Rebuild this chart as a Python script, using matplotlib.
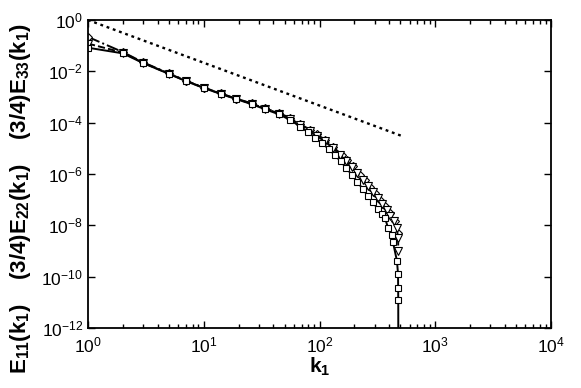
import matplotlib
matplotlib.use("Agg")
import matplotlib.pyplot as plt
import matplotlib.ticker as mticker
import numpy as np

plt.rcParams['font.family'] = ['Liberation Sans', 'DejaVu Sans']
plt.rcParams['mathtext.fontset'] = 'custom'
plt.rcParams['mathtext.rm'] = 'Liberation Sans'
plt.rcParams['mathtext.it'] = 'Liberation Sans'
plt.rcParams['mathtext.bf'] = 'Liberation Sans:bold'

# E11 (squares, solid)
k_11 = [1, 2, 3, 5, 7, 10, 14, 19, 26, 34, 45, 56, 68, 80, 92, 105, 120,
        136, 152, 170, 190, 212, 236, 262, 290, 320, 345, 368, 391, 423,
        431, 467, 477, 478, 479, 480]
logE_11 = [-1.08, -1.30, -1.68, -2.10, -2.38, -2.65, -2.88, -3.08, -3.28,
           -3.48, -3.68, -3.90, -4.15, -4.38, -4.58, -4.80, -5.02,
           -5.27, -5.50, -5.76, -6.03, -6.30, -6.58, -6.85, -7.10, -7.38,
           -7.55, -7.71, -8.10, -8.37, -8.65, -9.39, -9.90, -10.44, -10.9,
           -14.0]

# (3/4) E22 (triangles, dashed)
k_22 = [1, 2, 3, 5, 7, 10, 14, 19, 26, 34, 45, 56, 68, 83, 95, 111, 131,
        150, 170, 190, 212, 236, 262, 290, 320, 350, 380, 410, 440, 465,
        477, 480]
logE_22 = [-0.92, -1.27, -1.67, -2.09, -2.37, -2.64, -2.87, -3.07, -3.26,
           -3.45, -3.65, -3.85, -4.08, -4.33, -4.52, -4.73, -5.00,
           -5.25, -5.50, -5.73, -5.98, -6.22, -6.46, -6.70, -6.95, -7.18,
           -7.40, -7.62, -7.85, -8.10, -8.50, -9.00]

# (3/4) E33 (diamonds, dash-dot)
k_33 = [1, 2, 3, 5, 7, 10, 14, 19, 26, 34, 45, 56, 68, 83, 95, 111, 131,
        156, 172, 195, 224, 247, 272, 300, 334, 366, 405, 447, 475]
logE_33 = [-0.66, -1.25, -1.65, -2.08, -2.36, -2.63, -2.86, -3.06, -3.25,
           -3.44, -3.63, -3.82, -4.05, -4.28, -4.46, -4.66, -4.95,
           -5.25, -5.45, -5.70, -6.02, -6.25, -6.50, -6.75, -7.02, -7.25,
           -7.52, -7.85, -8.30]

# -5/3 reference line
k_ref = [1, 513]
slope_ref = -5.0 / 3.0

fig = plt.figure(figsize=(5.81, 3.88), dpi=100)
ax = fig.add_axes([88 / 581, 1 - 328 / 388, (551 - 88) / 581, (328 - 20) / 388])

mk = dict(markerfacecolor='white', markeredgecolor='black',
          markeredgewidth=0.8, color='black', linewidth=1.4)
ax.plot(k_33, 10.0 ** np.array(logE_33), linestyle='-.', marker='D',
        markersize=4.5, **mk)
ax.plot(k_22, 10.0 ** np.array(logE_22), linestyle='--', marker='v',
        markersize=5.5, **mk)
ax.plot(k_11, 10.0 ** np.array(logE_11), linestyle='-', marker='s',
        markersize=4.5, **mk)

k_ref = np.array(k_ref, dtype=float)
ax.plot(k_ref, k_ref ** slope_ref, color='black', linewidth=1.7,
        linestyle=(0, (1.2, 1.6)))

ax.set_xscale('log')
ax.set_yscale('log')
ax.set_xlim(1, 1e4)
ax.set_ylim(1e-12, 1)

ax.xaxis.set_major_locator(mticker.LogLocator(base=10, numticks=10))
ax.xaxis.set_minor_locator(mticker.LogLocator(base=10, subs=np.arange(2, 10),
                                              numticks=20))
ax.yaxis.set_major_locator(mticker.FixedLocator(10.0 ** np.arange(-12, 1, 2)))
ax.yaxis.set_minor_locator(mticker.NullLocator())
ax.xaxis.set_major_formatter(mticker.LogFormatterSciNotation())
ax.yaxis.set_major_formatter(mticker.LogFormatterSciNotation())

ax.tick_params(which='both', direction='in', top=True, right=True,
               labelsize=12.5, width=1.0)
ax.tick_params(which='major', length=5)
ax.tick_params(which='minor', length=3)
ax.tick_params(axis='x', which='major', pad=5.5)
for s in ax.spines.values():
    s.set_linewidth(1.3)

ax.set_xlabel(r'$\mathbf{k_1}$', fontsize=15, labelpad=0)
ax.set_ylabel(r'$\mathbf{E_{11}(k_1)}$    $\mathbf{(3/4)E_{22}(k_1)}$    '
              r'$\mathbf{(3/4)E_{33}(k_1)}$', fontsize=16)
ax.yaxis.set_label_coords(-55 / 463, (328 - 199) / 308)

fig.savefig('out.png', dpi=100)
